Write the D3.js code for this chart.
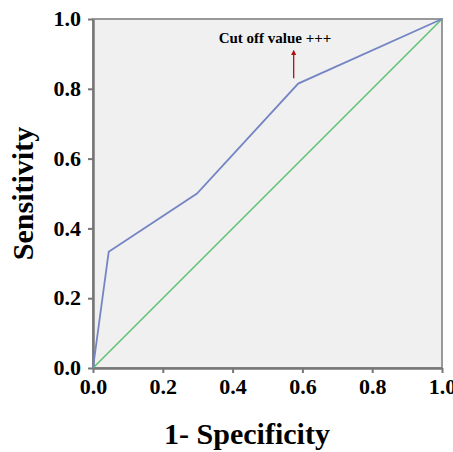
<!DOCTYPE html>
<style>
    body { margin: 0; background: #fff; }
    text { font-family: "Liberation Serif", "DejaVu Serif", serif; font-weight: bold; fill: #000; }
    .axis path, .axis line { stroke: #777; }
    .axis .tick text { font-size: 22px; }
</style>
<svg width="453" height="452"></svg>
<script src="https://d3js.org/d3.v7.min.js"></script>
<script>

    var fpr = [0, 0.045, 0.298, 0.588, 1],
        tpr = [0, 0.333, 0.5, 0.815, 1],
        refLine = [0, 1],
        tickValues = [0, 0.2, 0.4, 0.6, 0.8, 1.0],
        cutoffLabel = "Cut off value +++",
        cutoffPoint = [0.575, 0.83];

    var svg = d3.select("svg"),
        plotL = 93, plotR = 442, plotT = 19, plotB = 368;

    var x = d3.scaleLinear().domain([0, 1]).range([plotL, plotR]),
        y = d3.scaleLinear().domain([0, 1]).range([plotB, plotT]);

    svg.append("rect")
        .attr("x", plotL).attr("y", plotT)
        .attr("width", plotR - plotL).attr("height", plotB - plotT)
        .attr("fill", "#f0f0f0")
        .attr("stroke", "#999").attr("stroke-width", 2);

    var xAxis = svg.append("g").attr("class", "axis")
        .attr("transform", "translate(0," + plotB + ")")
        .call(d3.axisBottom(x).tickValues(tickValues).tickFormat(d3.format(".1f")).tickSize(5).tickSizeOuter(0));
    xAxis.selectAll(".tick text").attr("y", 8).attr("dy", "0.8em");

    var yAxis = svg.append("g").attr("class", "axis")
        .attr("transform", "translate(" + plotL + ",0)")
        .call(d3.axisLeft(y).tickValues(tickValues).tickFormat(d3.format(".1f")).tickSize(5).tickSizeOuter(0));
    yAxis.selectAll(".tick text").attr("x", -12).attr("dy", "0.3em");

    svg.selectAll(".axis .domain").attr("stroke-width", 2.5);
    svg.selectAll(".axis .tick line").attr("stroke-width", 2);

    var line = d3.line().x(function (d) { return x(d[0]); }).y(function (d) { return y(d[1]); });

    svg.append("path")
        .datum(refLine.map(function (v) { return [v, v]; }))
        .attr("d", line)
        .attr("fill", "none").attr("stroke", "#5cc070").attr("stroke-width", 1.5);

    svg.append("path")
        .datum(fpr.map(function (v, i) { return [v, tpr[i]]; }))
        .attr("d", line)
        .attr("fill", "none").attr("stroke", "#7585c4").attr("stroke-width", 1.8);

    // cut off annotation
    svg.append("defs").append("marker")
        .attr("id", "arrow").attr("viewBox", "0 0 10 10")
        .attr("refX", 5).attr("refY", 5)
        .attr("markerWidth", 4).attr("markerHeight", 5)
        .attr("orient", "auto")
        .append("path").attr("d", "M0,0 L10,5 L0,10 z").attr("fill", "#b01010");

    svg.append("line")
        .attr("x1", x(cutoffPoint[0])).attr("y1", y(cutoffPoint[1]))
        .attr("x2", x(cutoffPoint[0])).attr("y2", y(cutoffPoint[1]) - 26)
        .attr("stroke", "#b01010").attr("stroke-width", 1.3)
        .attr("marker-end", "url(#arrow)");

    svg.append("text")
        .attr("x", 275).attr("y", 43)
        .attr("text-anchor", "middle")
        .style("font-size", "15px")
        .text(cutoffLabel);

    svg.append("text")
        .attr("x", 247).attr("y", 444)
        .attr("text-anchor", "middle")
        .style("font-size", "30px")
        .text("1- Specificity");

    svg.append("text")
        .attr("transform", "translate(33," + ((plotT + plotB) / 2) + ") rotate(-90)")
        .attr("text-anchor", "middle")
        .style("font-size", "30px")
        .text("Sensitivity");

</script>
